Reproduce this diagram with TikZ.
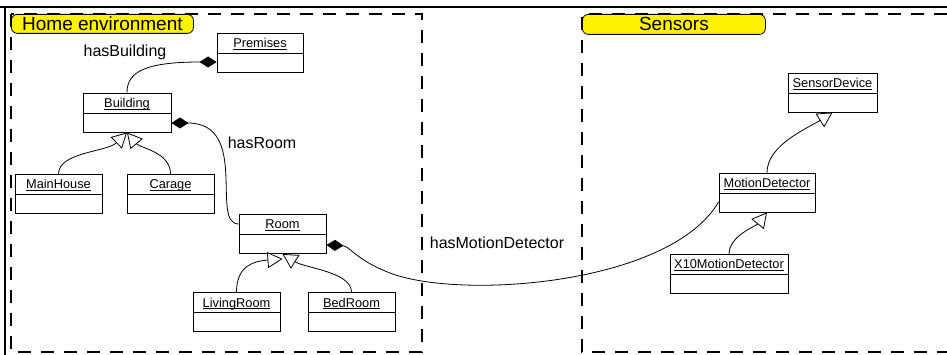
\documentclass[tikz,border=0pt]{standalone}
\usepackage{fontspec}
\setmainfont{Liberation Sans}
\usetikzlibrary{arrows.meta}
\newcommand\clsul[1]{\setbox0\hbox{#1}\rlap{\vrule width \wd0 height -1.4pt depth 2.2pt}\box0}
\begin{document}
\begin{tikzpicture}[x=1pt,y=-1pt,
  cls/.style={draw, line width=0.9pt, minimum width=#1, minimum height=39pt, inner sep=0pt,
    text height=14.5pt, text depth=24.5pt, font=\fontsize{12.8}{14}\selectfont,
    path picture={\draw[line width=0.9pt] ([yshift=-20pt]path picture bounding box.north west) -- ([yshift=-20pt]path picture bounding box.north east);}},
  cls/.default=88pt,
  rel/.style={inner sep=0pt, font=\fontsize{16}{18}\selectfont},
  grp/.style={draw, line width=0.8pt, fill=yellow, rounded corners=6pt, inner sep=0pt, anchor=north west, font=\fontsize{19}{21}\selectfont},
  grpline/.style={line width=2pt, dash pattern=on 13pt off 10pt},
  conn/.style={line width=0.8pt},
  comp/.style={conn, -{Diamond[length=17pt,width=11pt]}},
  compr/.style={conn, {Diamond[length=17pt,width=11pt]}-},
  gen/.style={conn, -{Triangle[open,length=15pt,width=16pt]}}
]
\useasboundingbox (0,0) rectangle (947,355);
% outer frame
\draw[line width=2pt] (0,7) -- (947,7);
\draw[line width=2pt] (5,7) -- (5,355);
% group boxes
\draw[grpline] (11,14) rectangle (422,352);
\draw[grpline] (947,14) -- (582,14) -- (582,352) -- (947,352);
\node[grp, minimum width=182pt, minimum height=19pt] (hometitle) at (11,14) {Home environment};
\node[grp, minimum width=183pt, minimum height=20pt] (sensorstitle) at (582,14) {Sensors};
% classes
\node[cls=86pt] (premises) at (260,52.5) {\clsul{Premises}};
\node[cls=88pt] (building) at (127,112.5) {\clsul{Building}};
\node[cls=87pt] (mainhouse) at (58.5,194) {\clsul{MainHouse}};
\node[cls=87pt] (carage) at (170.5,194) {\clsul{Carage}};
\node[cls=87pt] (room) at (282.5,234) {\clsul{Room}};
\node[cls=87pt] (livingroom) at (236.5,312) {\clsul{LivingRoom}};
\node[cls=87pt] (bedroom) at (351.5,312) {\clsul{BedRoom}};
\node[cls=89pt] (sensordevice) at (832.5,92.5) {\clsul{SensorDevice}};
\node[cls=96pt] (motiondetector) at (767,192.5) {\clsul{MotionDetector}};
\node[cls=118pt] (x10) at (729,274) {\clsul{X10MotionDetector}};
% relation labels
\node[rel] (lblbuilding) at (125,52) {hasBuilding};
\node[rel] (lblroom) at (262,143) {hasRoom};
\node[rel] (lblmotion) at (497,243) {hasMotionDetector};
% compositions
\draw[comp] (building.north) .. controls (127,72) and (145,62) .. ([yshift=-9.5pt]premises.west);
\draw[compr] ([yshift=-10.5pt]building.east) .. controls (250,123) and (210,224) .. ([yshift=10pt]room.west);
\draw[compr] ([yshift=-11pt]room.east) .. controls (350,246) and (355,259.5) .. (390,273) .. controls (460,300) and (670,285) .. ([yshift=-9.5pt]motiondetector.west);
% generalizations
\draw[gen] (mainhouse.north) .. controls (58.5,152) and (107,152) .. (building.south);
\draw[gen] (carage.north) .. controls (170.5,152) and (140,148) .. (building.south);
\draw[gen] (livingroom.north) .. controls (236.5,265) and (255,261) .. ([yshift=-5pt]room.south);
\draw[gen] (bedroom.north) .. controls (351.5,272) and (305,268) .. (room.south);
\draw[gen] (motiondetector.north) .. controls (767,145) and (808,128) .. (sensordevice.south);
\draw[gen] (x10.north) .. controls (729,236) and (756,226) .. (motiondetector.south);
\end{tikzpicture}
\end{document}
